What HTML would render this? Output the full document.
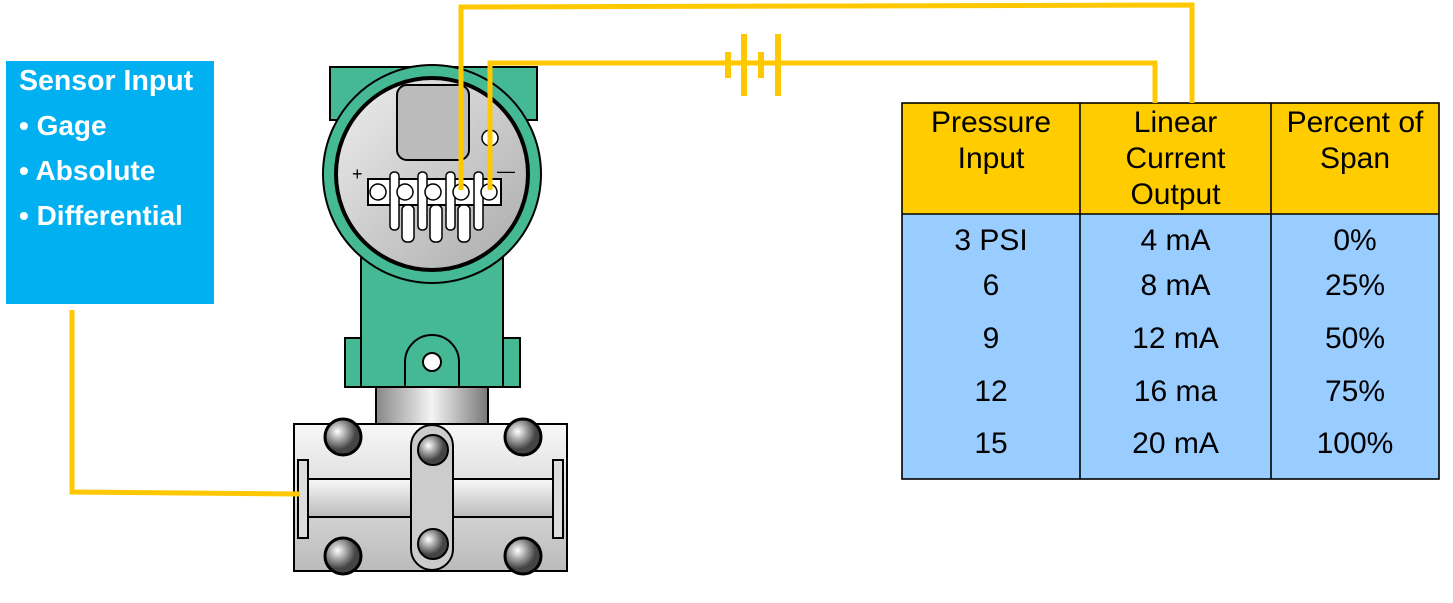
<!DOCTYPE html>
<html><head><style>
body{margin:0;width:1453px;height:603px;background:#fff;overflow:hidden;position:relative;font-family:"Liberation Sans",Arial,sans-serif}
.box{position:absolute;left:6px;top:61px;width:208px;height:243px;background:#00B0F0}
.bt{position:absolute;left:19px;color:#fff;font-weight:bold;font-size:28px;line-height:30px;white-space:nowrap}
.t{position:absolute;font-size:30px;line-height:36px;text-align:center;white-space:nowrap;color:#000}
</style></head><body>
<div class="box"></div>
<div class="bt" style="top:66px;font-size:28.5px">Sensor Input</div>
<div class="bt" style="top:111px">• Gage</div>
<div class="bt" style="top:156px">• Absolute</div>
<div class="bt" style="top:201px">• Differential</div>
<svg width="1453" height="603" style="position:absolute;left:0;top:0">
<rect x="902" y="103" width="537" height="111" fill="#FFCC00"/>
<rect x="902" y="214" width="537" height="265" fill="#99CCFF"/>
<g stroke="#000" stroke-width="1.6" fill="none">
<rect x="902" y="103" width="537" height="376"/>
<line x1="902" y1="214" x2="1439" y2="214"/>
<line x1="1080" y1="103" x2="1080" y2="479"/>
<line x1="1271" y1="103" x2="1271" y2="479"/>
</g>
<defs>
<linearGradient id="g" x1="0" x2="1"><stop offset="0" stop-color="#888"/><stop offset=".5" stop-color="#f4f4f4"/><stop offset="1" stop-color="#777"/></linearGradient>
<linearGradient id="gv" x1="0" y1="0" x2="0" y2="1"><stop offset="0" stop-color="#f8f8f8"/><stop offset="1" stop-color="#bbb"/></linearGradient>
<linearGradient id="gd" x1="0" y1="0" x2="1" y2="1"><stop offset="0" stop-color="#eee"/><stop offset="1" stop-color="#aaa"/></linearGradient>
<radialGradient id="bolt" cx=".35" cy=".35"><stop offset="0" stop-color="#fff"/><stop offset="1" stop-color="#444"/></radialGradient>
</defs>
<g stroke="#000" stroke-width="2">
<rect x="330" y="67" width="207" height="53" fill="#45B894"/>
<rect x="345" y="338" width="175" height="49" fill="#45B894"/>
<rect x="361" y="250" width="142" height="137" fill="#45B894"/>
<circle cx="432" cy="174" r="109" fill="#45B894"/>
<circle cx="432" cy="174" r="96" fill="url(#gd)" stroke-width="4"/>
<rect x="397" y="85" width="72" height="75" rx="10" fill="#bbb"/>
<path d="M405 387 v-25 a27 27 0 0 1 54 0 v25" fill="#45B894"/>
<circle cx="432" cy="362" r="9" fill="#fff"/>
<rect x="376" y="387" width="112" height="38" fill="url(#g)"/>
<rect x="294" y="424" width="273" height="147" fill="url(#gv)"/>
<rect x="298" y="460" width="10" height="78" fill="#ddd"/>
<rect x="553" y="460" width="10" height="78" fill="#ddd"/>
<rect x="308" y="479" width="245" height="38" fill="url(#gv)"/>
<rect x="411" y="425" width="42" height="145" rx="21" fill="#ccc"/>
<circle cx="343" cy="437" r="18" fill="url(#bolt)" stroke-width="3"/>
<circle cx="523" cy="437" r="18" fill="url(#bolt)" stroke-width="3"/>
<circle cx="343" cy="556" r="18" fill="url(#bolt)" stroke-width="3"/>
<circle cx="523" cy="556" r="18" fill="url(#bolt)" stroke-width="3"/>
<circle cx="433" cy="450" r="15" fill="url(#bolt)"/>
<circle cx="433" cy="544" r="15" fill="url(#bolt)"/>
<rect x="368" y="179" width="133" height="26" fill="#fff"/>
<g fill="#fff" stroke-width="1.5">
<rect x="390" y="172" width="9" height="58" rx="4"/><rect x="418" y="172" width="9" height="58" rx="4"/><rect x="446" y="172" width="9" height="58" rx="4"/><rect x="474" y="172" width="9" height="58" rx="4"/>
<rect x="402" y="205" width="12" height="37" rx="5"/><rect x="430" y="205" width="12" height="37" rx="5"/><rect x="458" y="205" width="12" height="37" rx="5"/>
<circle cx="378" cy="192" r="8"/><circle cx="405" cy="192" r="8"/><circle cx="433" cy="192" r="8"/><circle cx="461" cy="192" r="8"/><circle cx="489" cy="192" r="8"/>
<circle cx="490" cy="138" r="8"/>
</g>
</g>
<text x="352" y="180" font-size="18">+</text><text x="497" y="177" font-size="18">—</text>
<g fill="none" stroke="#FFC800" stroke-width="5">
<polyline points="72,310 72,492 300,494"/>
<polyline points="461,190 461,7 1192,5 1192,103"/>
<polyline points="490,190 490,63 1155,63 1155,103"/>
</g>
<g fill="#FFC800">
<rect x="725" y="52" width="6" height="26"/><rect x="741" y="34" width="6" height="62"/>
<rect x="758" y="52" width="6" height="26"/><rect x="775" y="34" width="6" height="62"/>
</g>
</svg>
<div class="t" style="left:902px;width:178px;top:105px">Pressure<br>Input</div>
<div class="t" style="left:1080px;width:191px;top:105px">Linear<br>Current<br>Output</div>
<div class="t" style="left:1271px;width:168px;top:105px">Percent of<br>Span</div>
<div class="t" style="left:902px;width:178px;top:223px">3 PSI</div>
<div class="t" style="left:1080px;width:191px;top:223px">4 mA</div>
<div class="t" style="left:1271px;width:168px;top:223px">0%</div>
<div class="t" style="left:902px;width:178px;top:268px">6</div>
<div class="t" style="left:1080px;width:191px;top:268px">8 mA</div>
<div class="t" style="left:1271px;width:168px;top:268px">25%</div>
<div class="t" style="left:902px;width:178px;top:321px">9</div>
<div class="t" style="left:1080px;width:191px;top:321px">12 mA</div>
<div class="t" style="left:1271px;width:168px;top:321px">50%</div>
<div class="t" style="left:902px;width:178px;top:374px">12</div>
<div class="t" style="left:1080px;width:191px;top:374px">16 ma</div>
<div class="t" style="left:1271px;width:168px;top:374px">75%</div>
<div class="t" style="left:902px;width:178px;top:426px">15</div>
<div class="t" style="left:1080px;width:191px;top:426px">20 mA</div>
<div class="t" style="left:1271px;width:168px;top:426px">100%</div>
</body></html>
